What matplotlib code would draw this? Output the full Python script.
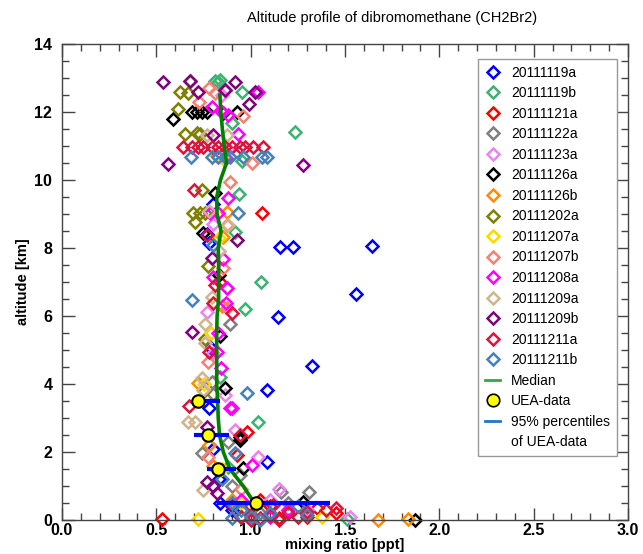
import matplotlib
matplotlib.use("Agg")
import matplotlib.pyplot as plt
from matplotlib.lines import Line2D
from matplotlib.ticker import MultipleLocator

plt.rcParams['font.family'] = ['Liberation Sans', 'DejaVu Sans']

# ---------------- data ----------------
labels = ['20111119a', '20111119b', '20111121a', '20111122a', '20111123a',
          '20111126a', '20111126b', '20111202a', '20111207a', '20111207b',
          '20111208a', '20111209a', '20111209b', '20111211a', '20111211b']

alt_20111119a = [8.06, 8.04, 8.02, 6.65, 5.98, 4.54, 3.82, 1.71, 0.49, 8.40, 8.15, 3.30, 5.05, 2.10, 1.20, 0.30, 9.30]
ppt_20111119a = [1.643, 1.155, 1.226, 1.556, 1.143, 1.323, 1.085, 1.085, 0.837, 0.77, 0.78, 0.78, 0.79, 0.80, 0.83, 0.90, 0.80]

alt_20111119b = [12.92, 12.94, 12.88, 12.60, 11.67, 11.42, 10.57, 9.59, 8.48, 7.01, 6.22, 4.20, 2.89, 1.55, 0.02]
ppt_20111119b = [0.81, 0.837, 0.825, 0.952, 0.90, 1.235, 0.952, 0.94, 0.917, 1.053, 0.97, 0.84, 1.04, 0.88, 1.509]

alt_20111121a = [9.02, 0.02, 2.60, 1.90, 0.60, 0.40, 0.30, 0.20, 0.15, 0.10, 0.05, 0.35, 7.0]
ppt_20111121a = [1.058, 0.528, 0.979, 0.93, 1.05, 1.10, 1.20, 1.45, 1.00, 1.30, 1.15, 1.35, 0.84]

alt_20111122a = [5.76, 4.07, 3.70, 2.30, 1.96, 1.32, 1.00, 0.83, 0.83, 0.50, 0.20]
ppt_20111122a = [0.89, 0.793, 0.80, 0.881, 0.74, 0.943, 0.90, 1.309, 1.160, 1.20, 1.05]

alt_20111123a = [12.50, 8.72, 6.13, 3.68, 2.65, 1.86, 0.90, 0.60, 0.30, 0.08, 4.90, 10.90]
ppt_20111123a = [0.85, 0.80, 0.767, 0.864, 0.917, 1.04, 1.15, 1.10, 1.30, 1.526, 0.80, 0.88]

alt_20111126a = [11.80, 12.00, 12.00, 12.00, 12.00, 11.96, 12.00, 9.63, 8.43, 7.20, 5.40, 3.87, 2.45, 2.35, 1.52, 0.54, 0.00]
ppt_20111126a = [0.586, 0.687, 0.714, 0.74, 0.767, 0.855, 0.926, 0.81, 0.749, 0.83, 0.84, 0.864, 0.943, 0.943, 0.961, 1.279, 1.871]

alt_20111126b = [9.07, 8.33, 6.30, 4.02, 2.20, 1.60, 0.60, 0.00, 0.02, 10.70]
ppt_20111126b = [0.873, 0.855, 0.85, 0.722, 0.78, 0.80, 0.90, 1.676, 1.835, 0.82]

alt_20111202a = [12.92, 12.60, 12.55, 12.10, 11.35, 11.37, 11.35, 9.70, 9.04, 9.04, 9.04, 8.77, 7.47, 5.31, 3.80]
ppt_20111202a = [0.678, 0.625, 0.67, 0.613, 0.652, 0.714, 0.73, 0.74, 0.696, 0.731, 0.758, 0.705, 0.775, 0.758, 0.75]

alt_20111207a = [0.02, 0.08, 8.30, 5.50, 4.00, 10.60, 1.50, 0.50]
ppt_20111207a = [0.722, 1.376, 0.83, 0.79, 0.75, 0.86, 0.85, 0.95]

alt_20111207b = [12.30, 12.55, 11.88, 10.49, 9.95, 8.68, 7.40, 6.81, 6.23, 4.66, 1.86, 0.90, 12.70]
ppt_20111207b = [0.726, 0.81, 0.96, 1.005, 0.89, 0.875, 0.855, 0.873, 0.876, 0.775, 0.775, 0.95, 0.78]

alt_20111208a = [12.60, 12.65, 12.16, 12.00, 11.90, 11.34, 10.65, 9.46, 9.04, 9.04, 7.67, 7.16, 6.81, 6.37,
                 5.49, 4.95, 4.46, 3.28, 3.30, 1.62, 0.60, 0.30, 0.10]
ppt_20111208a = [1.04, 0.864, 0.793, 0.85, 0.88, 0.934, 0.87, 0.878, 0.784, 0.828, 0.855, 0.80, 0.873, 0.87,
                 0.828, 0.82, 0.841, 0.89, 0.90, 1.005, 0.95, 1.20, 1.10]

alt_20111209a = [11.32, 11.32, 9.10, 8.68, 7.90, 6.57, 5.76, 5.20, 4.17, 3.82, 2.89, 2.89, 0.88]
ppt_20111209a = [0.767, 0.873, 0.78, 0.881, 0.83, 0.793, 0.758, 0.76, 0.74, 0.749, 0.669, 0.705, 0.749]

alt_20111209b = [12.87, 12.92, 12.58, 12.89, 12.60, 12.24, 12.65, 11.32, 10.47, 10.44, 8.24, 7.70, 5.54,
                 2.74, 1.13, 1.00, 0.80, 0.40, 0.10]
ppt_20111209b = [0.534, 0.68, 0.722, 0.917, 1.023, 0.993, 0.864, 0.80, 0.56, 1.275, 0.926, 0.793, 0.687,
                 0.767, 0.767, 0.80, 0.82, 0.90, 0.95]

alt_20111211a = [10.98, 10.98, 10.98, 10.98, 10.98, 10.98, 10.98, 10.98, 10.98, 10.98, 10.98, 10.98,
                 9.70, 8.38, 6.91, 6.37, 6.08, 4.95, 3.35, 2.50, 0.00, 0.05, 0.10, 0.15, 0.20, 0.25,
                 0.30, 0.35, 0.40, 0.10, 0.00, 0.45]
ppt_20111211a = [0.643, 0.687, 0.722, 0.749, 0.793, 0.828, 0.864, 0.90, 0.943, 0.97, 1.014, 1.067,
                 0.701, 0.767, 0.81, 0.80, 0.90, 0.779, 0.675, 0.943, 1.00, 1.05, 0.95, 1.10, 1.20, 1.30,
                 1.40, 1.45, 1.00, 1.25, 1.15, 1.12]

alt_20111211b = [10.67, 10.67, 10.67, 10.67, 10.67, 10.67, 10.67, 10.67,
                 9.04, 8.09, 6.47, 3.75, 1.96, 1.20, 0.50, 0.30, 0.10, 0.05, 0.20, 0.00, 0.40, 0.15]
ppt_20111211b = [0.684, 0.793, 0.828, 0.864, 0.89, 0.961, 1.058, 1.085,
                 0.934, 0.80, 0.687, 0.982, 0.917, 0.85, 0.90, 0.95, 1.00, 0.90, 1.10, 1.05, 1.25, 1.30]

alt_median = [0.5, 1.0, 1.5, 2.0, 2.5, 3.0, 3.5, 4.0, 4.5, 5.0, 5.5, 6.0, 6.5, 7.0, 7.5, 8.0,
              8.5, 9.0, 9.5, 10.0, 10.5, 11.0, 11.5, 12.0, 12.5]
ppt_median = [1.02, 0.96, 0.89, 0.855, 0.835, 0.828, 0.825, 0.82, 0.82, 0.82, 0.82, 0.822, 0.83, 0.83,
              0.83, 0.828, 0.843, 0.822, 0.82, 0.84, 0.872, 0.86, 0.85, 0.842, 0.837]

alt_uea = [0.5, 1.5, 2.5, 3.5]
ppt_uea = [1.026, 0.825, 0.775, 0.72]
ppt_uea_low = [0.82, 0.77, 0.70, 0.70]
ppt_uea_high = [1.42, 0.92, 0.887, 0.837]

x_ticks = [0.0, 0.5, 1.0, 1.5, 2.0, 2.5, 3.0]
y_ticks = [0, 2, 4, 6, 8, 10, 12, 14]

# ---------------- style ----------------
colors = ['#0000FF', '#3CB371', '#FF0000', '#808080', '#EE82EE', '#000000', '#FF8C00',
          '#808000', '#FFD700', '#FA8072', '#FF00FF', '#D2B48C', '#800080', '#DC143C', '#4682B4']

series = [
    (alt_20111119a, ppt_20111119a), (alt_20111119b, ppt_20111119b), (alt_20111121a, ppt_20111121a),
    (alt_20111122a, ppt_20111122a), (alt_20111123a, ppt_20111123a), (alt_20111126a, ppt_20111126a),
    (alt_20111126b, ppt_20111126b), (alt_20111202a, ppt_20111202a), (alt_20111207a, ppt_20111207a),
    (alt_20111207b, ppt_20111207b), (alt_20111208a, ppt_20111208a), (alt_20111209a, ppt_20111209a),
    (alt_20111209b, ppt_20111209b), (alt_20111211a, ppt_20111211a), (alt_20111211b, ppt_20111211b),
]

fig = plt.figure(figsize=(6.43, 5.54), dpi=100)
ax = fig.add_axes([62 / 643, 34 / 554, 566 / 643, 476 / 554])

handles = []
for (alt, ppt), lab, col in zip(series, labels, colors):
    h, = ax.plot(ppt, alt, linestyle='none', marker='D', markersize=6.5,
                 markerfacecolor='none', markeredgecolor=col, markeredgewidth=1.8,
                 clip_on=False, label=lab, zorder=2)
    handles.append(h)

ax.plot(ppt_median, alt_median, color='#008000', linewidth=2.6, zorder=3)
for a, lo, hi in zip(alt_uea, ppt_uea_low, ppt_uea_high):
    ax.plot([lo, hi], [a, a], color='#0000FF', linewidth=3, solid_capstyle='butt', zorder=4)
ax.plot(ppt_uea, alt_uea, linestyle='none', marker='o', markersize=9,
        markerfacecolor='#FFFF00', markeredgecolor='black', markeredgewidth=1.5, zorder=5)

ax.set_xlim(0, 3)
ax.set_ylim(0, 14)
ax.set_xticks(x_ticks)
ax.set_xticklabels([f'{v:.1f}' for v in x_ticks])
ax.set_yticks(y_ticks)
ax.set_yticklabels([str(v) for v in y_ticks])
ax.xaxis.set_minor_locator(MultipleLocator(0.1))
ax.yaxis.set_minor_locator(MultipleLocator(0.5))
ax.tick_params(which='both', direction='in', top=True, right=True, color='#444444')
ax.tick_params(which='major', length=9, width=1, labelsize=11.5)
ax.tick_params(axis='x', which='major', pad=2)
ax.tick_params(axis='y', which='major', pad=7)
ax.tick_params(which='minor', length=5, width=1)
for lab in ax.get_xticklabels() + ax.get_yticklabels():
    lab.set_fontweight('bold')
for sp in ax.spines.values():
    sp.set_color('#444444')
    sp.set_linewidth(1)

ax.set_xlabel('mixing ratio [ppt]', fontsize=10.5, fontweight='bold', labelpad=0)
ax.set_ylabel('altitude [km]', fontsize=10.5, fontweight='bold', labelpad=3)
fig.text(392 / 643, 1 - 18 / 554, 'Altitude profile of dibromomethane (CH2Br2)',
         ha='center', va='center', fontsize=10.5)

med_h = Line2D([], [], color='#2EAA4A', linewidth=2)
uea_h = Line2D([], [], linestyle='none', marker='o', markersize=9,
               markerfacecolor='#FFFF00', markeredgecolor='black', markeredgewidth=1.2)
pct_h = Line2D([], [], color='#1E78C8', linewidth=2)
blank_h = Line2D([], [], linestyle='none')
handles += [med_h, uea_h, pct_h, blank_h]
leg_labels = labels + ['Median', 'UEA-data', '95% percentiles', 'of UEA-data']

leg = ax.legend(handles, leg_labels, loc='upper right', bbox_to_anchor=(0.981, 0.969),
                borderaxespad=0, fontsize=10, numpoints=1, handlelength=1.1,
                handletextpad=0.8, labelspacing=0.47, borderpad=0.5,
                fancybox=False, framealpha=1, edgecolor='#999999')
leg.get_frame().set_linewidth(1)

fig.savefig('out.png', dpi=100)
